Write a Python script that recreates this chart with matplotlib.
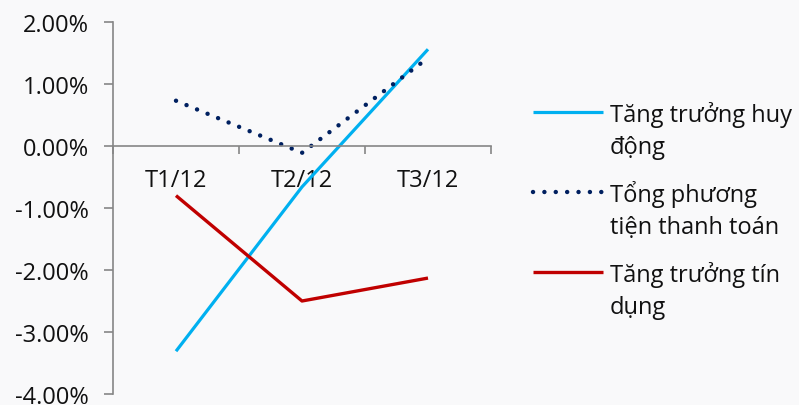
import matplotlib
matplotlib.use("Agg")
import matplotlib.pyplot as plt
from matplotlib.lines import Line2D
from matplotlib.ticker import FuncFormatter, FixedLocator

categories = ["T1/12", "T2/12", "T3/12"]
huy_dong = [-3.31, -0.66, 1.56]
tong_pttt = [0.73, -0.11, 1.42]
tin_dung = [-0.80, -2.50, -2.13]
series_names = [["Tăng trưởng huy", "động"],
                ["Tổng phương", "tiện thanh toán"],
                ["Tăng trưởng tín", "dụng"]]

plt.rcParams['font.family'] = ['Open Sans', 'DejaVu Sans']

W, H = 799, 406
fig = plt.figure(figsize=(W / 100, H / 100), dpi=100)
fig.patch.set_facecolor("#f9f9fa")
ax = fig.add_axes([113 / W, 1 - 395 / H, (491 - 113) / W, (395 - 23) / H])
ax.set_facecolor("none")

styles = [dict(color="#00B0F0", lw=2.3, solid_capstyle="butt"),
          dict(color="#002060", lw=3.2, linestyle=(0, (0.01, 2.55)), dash_capstyle="round"),
          dict(color="#C00000", lw=2.4, solid_capstyle="butt")]

x = list(range(len(categories)))
for vals, st in zip([huy_dong, tong_pttt, tin_dung], styles):
    ax.plot(x, vals, **st)

ax.set_xlim(-0.5, 2.5)
ax.set_ylim(-4, 2)
ax.yaxis.set_major_locator(FixedLocator([-4, -3, -2, -1, 0, 1, 2]))
ax.yaxis.set_major_formatter(FuncFormatter(lambda v, p: f"{v:.2f}%"))

ax.spines["top"].set_visible(False)
ax.spines["right"].set_visible(False)
ax.spines["bottom"].set_position(("data", 0))
for s in ("left", "bottom"):
    ax.spines[s].set_color("#868686")
    ax.spines[s].set_linewidth(1.2)

ax.set_xticks(x)
ax.set_xticklabels(categories)
ax.set_xticks([-0.5, 0.5, 1.5, 2.5], minor=True)
ax.tick_params(axis="x", which="major", length=0, pad=16, labelsize=17, labelcolor="#111111")
ax.tick_params(axis="x", which="minor", length=6, width=1.2, color="#868686", direction="out")
ax.tick_params(axis="y", which="major", length=6.5, width=1.2, color="#868686",
               pad=11, labelsize=17, labelcolor="#111111")

# manual legend: handle aligned to first text line
handle_y = [113, 193, 273]
for st, names, hy in zip(styles, series_names, handle_y):
    fig.add_artist(Line2D([533 / W, 603 / W], [1 - hy / H, 1 - hy / H],
                          transform=fig.transFigure, **st))
    for i, line in enumerate(names):
        by = hy + 9 + i * 31.5
        fig.text(610 / W, 1 - by / H, line, fontsize=17, color="#111111",
                 ha="left", va="baseline")

fig.savefig("out.png", dpi=100, facecolor=fig.get_facecolor())
